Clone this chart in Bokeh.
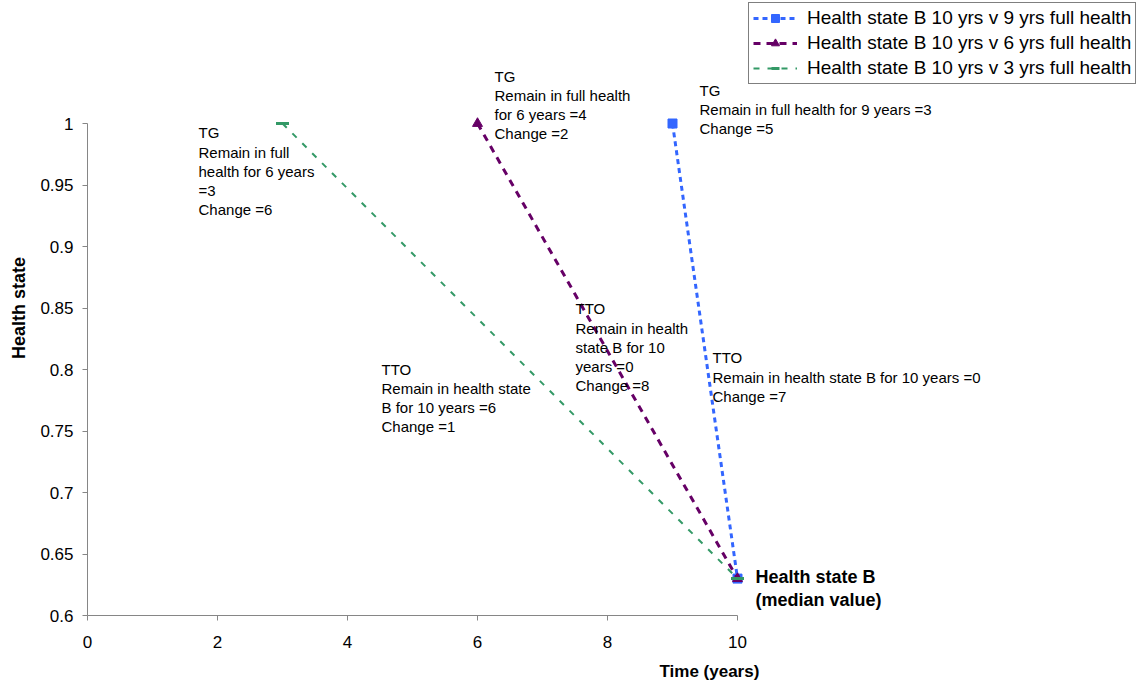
from bokeh.plotting import figure
from bokeh.models import (Range1d, FixedTicker, CustomJSTickFormatter, Label, Legend,
                          LegendItem, Title)
from bokeh.embed import file_html
from bokeh.resources import INLINE

# ---- data ----
x_ticks = [0, 2, 4, 6, 8, 10]
y_ticks = [0.6, 0.65, 0.7, 0.75, 0.8, 0.85, 0.9, 0.95, 1.0]

blue_x = [9, 10]
blue_y = [1.0, 0.63]
purple_x = [6, 10]
purple_y = [1.0, 0.63]
green_x = [3, 10]
green_y = [1.0, 0.63]

series_names = [
    "Health state B 10 yrs v 9 yrs full health",
    "Health state B 10 yrs v 6 yrs full health",
    "Health state B 10 yrs v 3 yrs full health",
]

ann_texts = [
    "TG\nRemain in full\nhealth for 6 years\n=3\nChange =6",
    "TG\nRemain in full health\nfor 6 years =4\nChange =2",
    "TG\nRemain in full health for 9 years =3\nChange =5",
    "TTO\nRemain in health state\nB for 10 years =6\nChange =1",
    "TTO\nRemain in health\nstate B for 10\nyears =0\nChange =8",
    "TTO\nRemain in health state B for 10 years =0\nChange =7",
]
median_text = "Health state B\n(median value)"

FONT = "Liberation Sans"
BLUE = "#3366FF"
PURPLE = "#660066"
GREEN = "#339966"
AXIS = "#868686"

# frame spans from the y axis to the right / top edges of the page
p = figure(frame_width=1054, frame_height=615,
           min_border_left=87, min_border_right=0,
           min_border_top=0, min_border_bottom=72,
           x_range=Range1d(0, 1054 / 65.0), y_range=Range1d(0.6, 1.1),
           output_backend="svg", toolbar_location=None,
           background_fill_color="white", border_fill_color="white")
p.outline_line_color = None
p.xgrid.visible = False
p.ygrid.visible = False

for ax in (p.xaxis[0], p.yaxis[0]):
    ax.axis_line_color = AXIS
    ax.major_tick_line_color = AXIS
    ax.minor_tick_line_color = None
    ax.major_tick_out = 5
    ax.major_tick_in = 0
    ax.major_label_text_font = FONT
    ax.major_label_text_font_size = "17px"
    ax.major_label_text_color = "black"
p.xaxis.major_label_standoff = 15
p.yaxis.major_label_standoff = 9

p.xaxis.bounds = (0, 10)
p.yaxis.bounds = (0.6, 1.0)
p.xaxis.ticker = FixedTicker(ticks=x_ticks)
p.yaxis.ticker = FixedTicker(ticks=y_ticks)
p.yaxis.formatter = CustomJSTickFormatter(
    code="return tick.toFixed(2).replace(/0+$/,'').replace(/\\.$/,'');")

p.yaxis.axis_label = "Health state"
p.yaxis.axis_label_text_font = FONT
p.yaxis.axis_label_text_font_size = "18px"
p.yaxis.axis_label_text_font_style = "bold"
p.yaxis.axis_label_text_color = "black"
p.yaxis.axis_label_standoff = 8

# lines + markers
bl = p.line(blue_x, blue_y, line_color=BLUE, line_width=3, line_dash="5 4")
bm = p.scatter(blue_x, blue_y, marker="square", size=9, fill_color=BLUE, line_color=BLUE)
pl = p.line(purple_x, purple_y, line_color=PURPLE, line_width=3, line_dash="7 6")
pm = p.scatter(purple_x, purple_y, marker="triangle", size=10, fill_color=PURPLE, line_color=PURPLE)
gl = p.line(green_x, green_y, line_color=GREEN, line_width=2, line_dash="6 8")
gm = p.scatter(green_x, green_y, marker="dash", size=13, line_color=GREEN, line_width=3)

legend = Legend(items=[
    LegendItem(label=series_names[0], renderers=[bl, bm]),
    LegendItem(label=series_names[1], renderers=[pl, pm]),
    LegendItem(label=series_names[2], renderers=[gl, gm]),
], location=(661, 531))
legend.label_text_font = FONT
legend.label_text_font_size = "19px"
legend.label_text_color = "black"
legend.border_line_color = "black"
legend.border_line_width = 1
legend.padding = 4
legend.spacing = 3
legend.label_height = 20
legend.glyph_height = 20
legend.glyph_width = 44
legend.label_standoff = 10
legend.margin = 0
legend.background_fill_alpha = 1
p.add_layout(legend)

# annotations (data positions)
ann_pos = [(1.708, 0.9992), (6.262, 1.0455), (9.415, 1.0341),
           (4.523, 0.8073), (7.508, 0.8561), (9.615, 0.8163)]
for t, (ax_, ay_) in zip(ann_texts, ann_pos):
    p.add_layout(Label(x=ax_, y=ay_, text=t, text_font=FONT, text_font_size="15px",
                       text_color="black", text_baseline="top", text_align="left",
                       text_line_height=1.13))

p.add_layout(Label(x=10.277, y=0.6398, text=median_text, text_font=FONT,
                   text_font_size="18px", text_font_style="bold", text_color="black",
                   text_baseline="top", text_align="left", text_line_height=1.15))

# x-axis title (placed as in the reference, right of centre)
xt = Title(text="Time (years)", align="left", offset=572, text_font=FONT,
           text_font_size="17px", text_font_style="bold", text_color="black",
           standoff=18)
p.add_layout(xt, "below")

open("out.html", "w").write(file_html(p, INLINE))
